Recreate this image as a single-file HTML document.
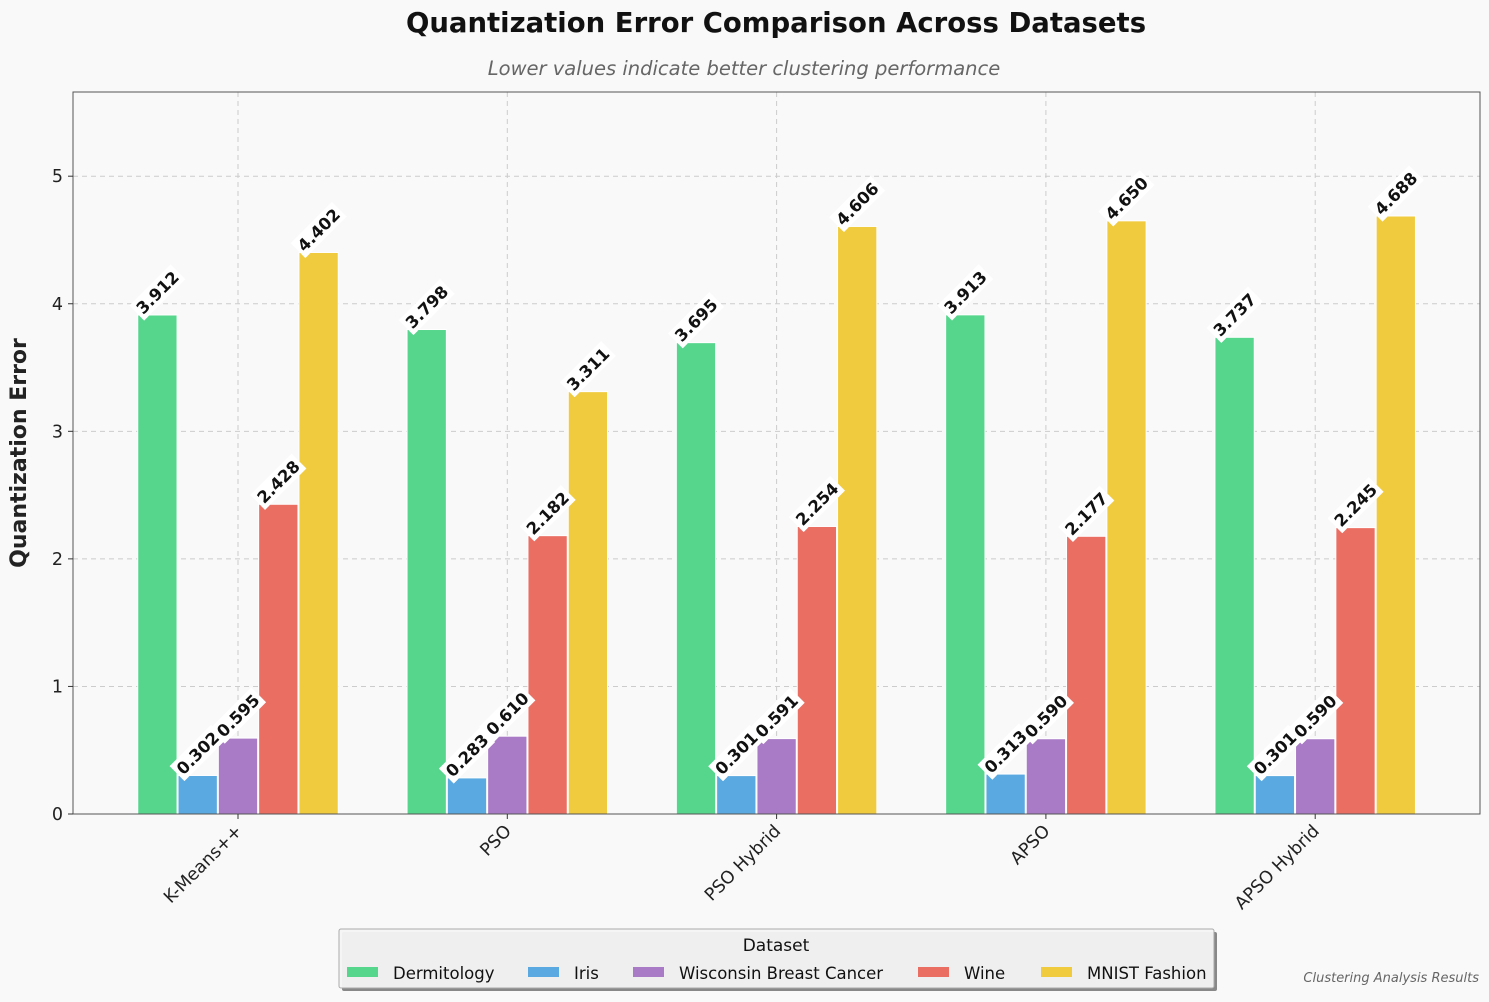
<!DOCTYPE html>
<html><head><meta charset="utf-8"><style>
body{margin:0;background:#f9f9f9;font-family:"DejaVu Sans","Liberation Sans",sans-serif;}
svg text{font-family:"DejaVu Sans","Liberation Sans",sans-serif;}
</style></head><body>
<svg id="chart" width="1489" height="998" xmlns="http://www.w3.org/2000/svg">
<rect width="1489" height="998" fill="#f9f9f9"/>
<text x="776" y="32" text-anchor="middle" font-size="27.5" font-weight="bold" fill="#111">Quantization Error Comparison Across Datasets</text>
<text x="744" y="75" text-anchor="middle" font-size="19.5" font-style="italic" fill="#666">Lower values indicate better clustering performance</text>
<rect x="73" y="92" width="1407" height="722" fill="#f9f9f9"/>
<g id="grid"></g><g id="bars"></g><g id="labels"></g>
<rect x="73" y="92" width="1407" height="722" fill="none" stroke="#555" stroke-width="1"/>
<g id="axes"></g>
<text transform="translate(26,453) rotate(-90)" text-anchor="middle" font-size="22" font-weight="bold" fill="#222">Quantization Error</text>
<text x="776" y="962" text-anchor="middle" font-size="22" font-weight="bold" fill="#222">Clustering Methods</text>
<g>
<rect x="342" y="932" width="875" height="59" fill="#888" rx="2"/>
<rect x="339" y="929" width="875" height="59" fill="#f4f4f4" fill-opacity="0.95" stroke="#aaa" rx="2"/>
<text x="776" y="951" text-anchor="middle" font-size="17" fill="#111">Dataset</text>
<g id="legend-items"></g>
</g>
<text x="1479" y="982" text-anchor="end" font-size="13" font-style="italic" fill="#666">Clustering Analysis Results</text>
</svg>
<script>
const categories=["K-Means++","PSO","PSO Hybrid","APSO","APSO Hybrid"];
const seriesNames=["Dermitology","Iris","Wisconsin Breast Cancer","Wine","MNIST Fashion"];
const dermitology=[3.912,3.798,3.695,3.913,3.737];
const iris=[0.302,0.283,0.301,0.313,0.301];
const wbc=[0.595,0.610,0.591,0.590,0.590];
const wine=[2.428,2.182,2.254,2.177,2.245];
const mnist=[4.402,3.311,4.606,4.650,4.688];
const yTicks=[0,1,2,3,4,5];
const series=[dermitology,iris,wbc,wine,mnist];
const colors=["#56d68c","#5aa9e0","#a97ac6","#eb6e63","#f1cb3e"];
const NS="http://www.w3.org/2000/svg";
const x0=73,x1=1480,y0=814,yTop=92,yMax=5.66;
const ys=v=>y0-v/yMax*(y0-yTop);
const gx=i=>238+i*269.3;
const bw=40.3;
function mk(t,a,p){const e=document.createElementNS(NS,t);for(const k in a)e.setAttribute(k,a[k]);p.appendChild(e);return e;}
const grid=document.getElementById('grid'),axes=document.getElementById('axes'),bars=document.getElementById('bars'),labels=document.getElementById('labels');
yTicks.forEach(t=>{const y=ys(t);
 if(t>0){const l=mk('line',{x1:x0,x2:x1,y1:y,y2:y,stroke:'#ccc','stroke-dasharray':'5,4'},grid);
 }
 mk('line',{x1:x0-5,x2:x0,y1:y,y2:y,stroke:'#333'},axes);
 const tx=mk('text',{x:x0-10,y:y+6,'text-anchor':'end','font-size':17.5,fill:'#222'},axes);tx.textContent=t;
 
});
categories.forEach((c,i)=>{const x=gx(i);
 const l=mk('line',{x1:x,x2:x,y1:yTop,y2:y0,stroke:'#ccc','stroke-dasharray':'5,4'},grid);
 
 mk('line',{x1:x,x2:x,y1:y0,y2:y0+5,stroke:'#333'},axes);
 const tx=mk('text',{transform:`translate(${x+5},${y0+18}) rotate(-45)`,'text-anchor':'end','font-size':17.5,fill:'#222'},axes);tx.textContent=c;
 
});
series.forEach((s,j)=>{s.forEach((v,i)=>{
 const cx=gx(i)+(j-2)*bw, top=ys(v);
 const r=mk('rect',{x:cx-bw/2+0.5,y:top,width:bw-1,height:y0-top,fill:colors[j],stroke:'#fff','stroke-width':1},bars);
 
 
 const txt=v.toFixed(3), w=txt.length*10.5, h=17;
 const d=(w+h)*0.707/2;
 const g=mk('g',{transform:`translate(${cx},${top-d+2}) rotate(-45)`},labels);
 
 mk('rect',{x:-w/2-3,y:-h/2-2,width:w+6,height:h+4,fill:'#fff'},g);
 mk('polygon',{points:`${-w/2-3},${h/2-4} ${-w/2-3},${h/2+2} ${-w/2+3},${h/2+2}`,fill:'#fff'},g);
 const t=mk('text',{x:0,y:6,'text-anchor':'middle','font-size':16.5,'font-weight':'bold',fill:'#111'},g);t.textContent=txt;
});});
const li=document.getElementById('legend-items');
const lx=[347,528,633,918,1041];
seriesNames.forEach((n,j)=>{
 const g=mk('g',{},li);
 mk('rect',{x:lx[j],y:967,width:31,height:10,fill:colors[j]},g);
 const t=mk('text',{x:lx[j]+46,y:979,'font-size':16.5,fill:'#111'},g);t.textContent=n;
});
</script>
</body></html>
